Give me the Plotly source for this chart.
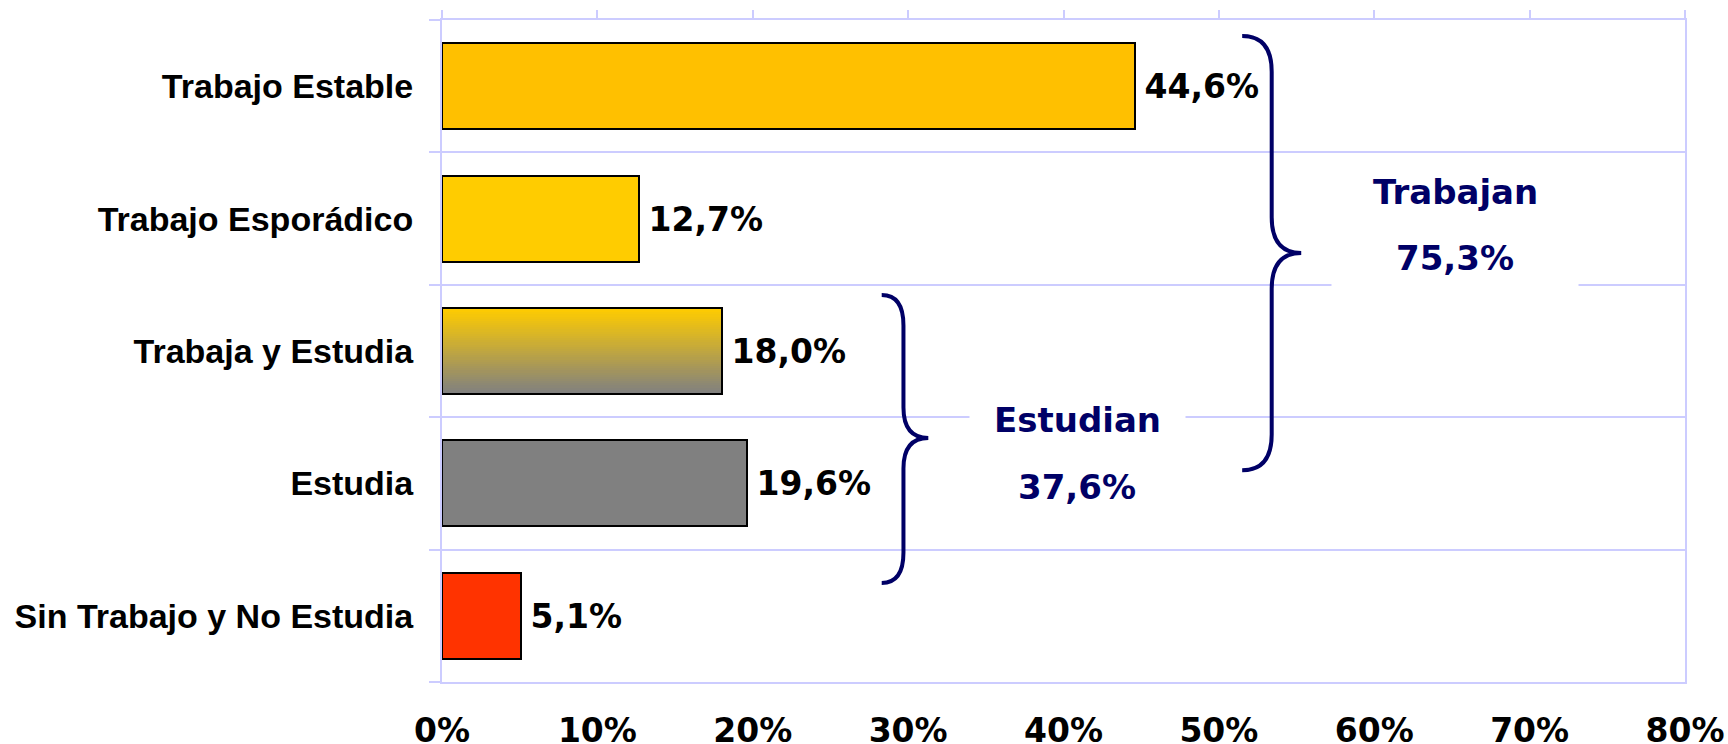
import plotly.graph_objects as go

categories = ['Trabajo Estable', 'Trabajo Esporádico', 'Trabaja y Estudia', 'Estudia', 'Sin Trabajo y No Estudia']
values = [44.6, 12.7, 18.0, 19.6, 5.1]
bar_colors = ['#FFC000', '#FFCC00', None, '#808080', '#FF3300']
trabajan_idx = [0, 1, 2]
estudian_idx = [2, 3]
x_ticks = [0, 10, 20, 30, 40, 50, 60, 70, 80]
x_ticktext = [f"{t}%" for t in x_ticks]

NAVY = '#000066'
GRID = '#CCCCFF'
BAR_W = 0.65


def fmt(v):
    return f"{v:.1f}".replace('.', ',') + '%'


def mix(c1, c2, t):
    a = [int(c1[i:i + 2], 16) for i in (1, 3, 5)]
    b = [int(c2[i:i + 2], 16) for i in (1, 3, 5)]
    return 'rgb(%d,%d,%d)' % tuple(round(a[k] + (b[k] - a[k]) * t) for k in range(3))


def brace(xv, xe, xt, yt, ym, yb, r):
    return (f"M{xe},{yt} Q{xv},{yt} {xv},{yt + r} L{xv},{ym - r} "
            f"Q{xv},{ym} {xt},{ym} Q{xv},{ym} {xv},{ym + r} "
            f"L{xv},{yb - r} Q{xv},{yb} {xe},{yb}")


ypos = list(range(len(categories)))
fig = go.Figure()

# gradient bar (Trabaja y Estudia) built from stacked strips, each reaching to the bottom edge
g = bar_colors.index(None)
n = 40
step = BAR_W / n
for i in range(n):
    fig.add_trace(go.Bar(
        x=[values[g]], y=[ypos[g]], orientation='h',
        width=BAR_W - i * step, offset=-BAR_W / 2 + i * step,
        marker=dict(color=mix('#FFCC00', '#808080', i / (n - 1)), line=dict(width=0)),
        hoverinfo='skip', showlegend=False))

fig.add_trace(go.Bar(
    x=values, y=ypos, orientation='h', width=BAR_W,
    marker=dict(color=[c if c else 'rgba(0,0,0,0)' for c in bar_colors],
                line=dict(color='black', width=2)),
    text=['\u2009' + fmt(v) for v in values], textposition='outside', cliponaxis=False,
    textfont=dict(family='DejaVu Sans', size=33, color='black', weight='bold'),
    showlegend=False))

# empty trace so the top tick axis is drawn
fig.add_trace(go.Scatter(x=[], y=[], xaxis='x2', showlegend=False))

trabajan = sum(values[i] for i in trabajan_idx)
estudian = sum(values[i] for i in estudian_idx)

fig.add_shape(type='path', path=brace(53.4, 51.5, 55.3, -0.379, 1.26, 2.9, 0.27),
              line=dict(color=NAVY, width=4), layer='above')
fig.add_shape(type='path', path=brace(29.7, 28.3, 31.3, 1.577, 2.657, 3.752, 0.23),
              line=dict(color=NAVY, width=4), layer='above')

afont = dict(family='DejaVu Sans', size=34, color=NAVY, weight='bold')
fig.add_annotation(x=65.2, y=0.80, text='Trabajan', showarrow=False, font=afont)
fig.add_annotation(x=65.2, y=1.30, text=fmt(trabajan), showarrow=False, font=afont,
                   bgcolor='white', width=244, height=60)
fig.add_annotation(x=40.9, y=2.52, text='Estudian', showarrow=False, font=afont,
                   bgcolor='white', width=213, height=46)
fig.add_annotation(x=40.9, y=3.03, text=fmt(estudian), showarrow=False, font=afont)

fig.update_layout(
    width=1728, height=744,
    margin=dict(l=442, r=43, t=20, b=62),
    paper_bgcolor='white', plot_bgcolor='white',
    barmode='overlay', bargap=0,
    xaxis=dict(range=[0, 80], tickvals=x_ticks, ticktext=x_ticktext, showgrid=False, zeroline=False,
               showline=True, linecolor=GRID, linewidth=2, mirror=True, ticks='',
               ticklabelstandoff=18, automargin=False,
               tickfont=dict(family='DejaVu Sans', size=33, color='black', weight='bold')),
    xaxis2=dict(range=[0, 80], tickvals=x_ticks, overlaying='x', side='top', anchor='y',
                showticklabels=False, showgrid=False, zeroline=False, showline=False,
                ticks='outside', ticklen=9, tickwidth=2, tickcolor=GRID),
    yaxis=dict(range=[4.5, -0.5], tickvals=ypos, ticktext=categories, showgrid=False, zeroline=False,
               showline=True, linecolor=GRID, linewidth=2, mirror=True, ticks='',
               ticklabelstandoff=20, automargin=False,
               tickfont=dict(family='Liberation Sans', size=34, color='black', weight='bold'),
               minor=dict(tickvals=[-0.5, 0.5, 1.5, 2.5, 3.5, 4.5], showgrid=True, gridcolor=GRID,
                          gridwidth=2, ticks='outside', ticklen=11, tickwidth=2, tickcolor=GRID)),
)

fig.write_html("out.html", config={'displayModeBar': False},
               post_script="document.body.style.margin='0';document.body.style.overflow='hidden';")
